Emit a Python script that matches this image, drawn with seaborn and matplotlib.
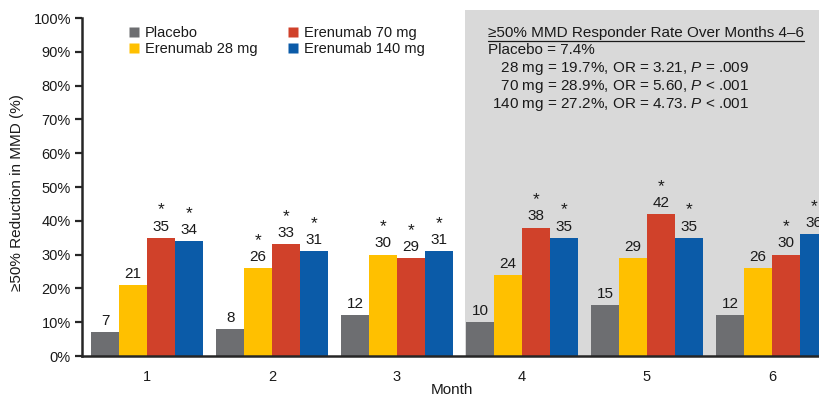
import matplotlib
matplotlib.use("Agg")
import matplotlib.pyplot as plt
from matplotlib.lines import Line2D
import seaborn as sns
import pandas as pd

# Responder rates (%) per month for each treatment arm
months = ["1", "2", "3", "4", "5", "6"]
groups = ["Placebo", "Erenumab 28 mg", "Erenumab 70 mg", "Erenumab 140 mg"]
placebo = [7, 8, 12, 10, 15, 12]
erenumab_28 = [21, 26, 30, 24, 29, 26]
erenumab_70 = [35, 33, 29, 38, 42, 30]
erenumab_140 = [34, 31, 31, 35, 35, 36]

# Significance markers (*) per arm and month
sig_placebo = [False] * 6
sig_28 = [False, True, True, False, False, False]
sig_70 = [True] * 6
sig_140 = [True] * 6

yticks = [0, 10, 20, 30, 40, 50, 60, 70, 80, 90, 100]
palette = ["#6d6e71", "#ffc000", "#d0412a", "#0b5ba8"]
shade_color = "#d9d9d9"

summary_title = "≥50% MMD Responder Rate Over Months 4–6"
summary_lines = [
    "Placebo = 7.4%",
    "   28 mg = 19.7%, OR = 3.21, $\\mathit{P}$ = .009",
    "   70 mg = 28.9%, OR = 5.60, $\\mathit{P}$ < .001",
    " 140 mg = 27.2%, OR = 4.73. $\\mathit{P}$ < .001",
]

sns.set_style("ticks")
plt.rcParams["font.family"] = ["Liberation Sans", "DejaVu Sans"]
plt.rcParams["mathtext.fontset"] = "custom"
plt.rcParams["mathtext.rm"] = "Liberation Sans"
plt.rcParams["mathtext.it"] = "Liberation Sans:italic"

series = [placebo, erenumab_28, erenumab_70, erenumab_140]
flags = [sig_placebo, sig_28, sig_70, sig_140]
rows = []
for g, vals in zip(groups, series):
    for m, v in zip(months, vals):
        rows.append({"Month": m, "Rate": v, "Group": g})
df = pd.DataFrame(rows)

W, H = 820, 398
fig = plt.figure(figsize=(W / 100, H / 100), dpi=100)
ax_left, ax_right, ax_bottom, ax_top = 82, 834.5, 356, 10
ax = fig.add_axes([ax_left / W, (H - ax_bottom) / H,
                   (ax_right - ax_left) / W, (ax_bottom - ax_top) / H])

sns.barplot(data=df, x="Month", y="Rate", hue="Group", hue_order=groups,
            order=months, palette=palette, width=0.89, gap=0, saturation=1,
            errorbar=None, legend=False, linewidth=0, ax=ax, zorder=2)

ax.set_xlim(-0.52, 5.5)
ax.set_ylim(0, 102.4)
ax.axvspan(2.544, 5.5, color=shade_color, zorder=0, lw=0)

# value labels and asterisks
for cont, flg in zip(ax.containers, flags):
    ax.bar_label(cont, fmt="%d", padding=3, fontsize=11, color="#1a1a1a")
    for bar, f in zip(cont, flg):
        if f:
            ax.annotate("*", xy=(bar.get_x() + bar.get_width() / 2, bar.get_height()),
                        xytext=(0, 14.5), textcoords="offset points",
                        ha="center", va="bottom", fontsize=12.5, color="#1a1a1a")

ax.set_yticks(yticks)
ax.set_yticklabels([f"{t}%" for t in yticks], fontsize=10.5, color="#1a1a1a")
ax.tick_params(axis="y", direction="out", length=5, width=1.6, pad=3)
ax.tick_params(axis="x", length=0, pad=10, labelsize=10.5, labelcolor="#1a1a1a")
ax.spines["left"].set_bounds(0, 100)
ax.spines["left"].set_linewidth(1.8)
ax.spines["bottom"].set_linewidth(1.8)
ax.spines["top"].set_visible(False)
ax.spines["right"].set_visible(False)
ax.set_xlabel("")
ax.set_ylabel("")

fig.text(452 / W, 1 - 390 / H, "Month", ha="center", va="center",
         fontsize=11, color="#1a1a1a")
fig.text(17 / W, 1 - 193 / H, "≥50% Reduction in MMD (%)", rotation=90,
         ha="center", va="center", fontsize=11, color="#1a1a1a")

handles = [Line2D([0], [0], marker="s", linestyle="none", markersize=6.5,
                  markerfacecolor=c, markeredgecolor="none") for c in palette]
leg = fig.legend(handles, groups, ncol=2, loc="upper left",
                 bbox_to_anchor=(129 / W, 1 - 26 / H), frameon=False,
                 fontsize=10.5, handlelength=0.7, handletextpad=0.4,
                 columnspacing=2.1, labelspacing=0.12, borderaxespad=0,
                 borderpad=0)
for t in leg.get_texts():
    t.set_color("#1a1a1a")

# summary box text
title = fig.text(488 / W, 1 - 33 / H, summary_title, ha="left", va="center",
                 fontsize=11, color="#1a1a1a")
for i, line in enumerate(summary_lines):
    fig.text(488 / W, 1 - (50 + 18.3 * i) / H, line, ha="left", va="center",
             fontsize=11, color="#1a1a1a")

fig.canvas.draw()
bb = title.get_window_extent()
y_ul = bb.y0 - 1
fig.add_artist(Line2D([bb.x0 / W, bb.x1 / W], [y_ul / H, y_ul / H],
                      transform=fig.transFigure, color="#1a1a1a", lw=0.9))

fig.savefig("out.png", dpi=100)
